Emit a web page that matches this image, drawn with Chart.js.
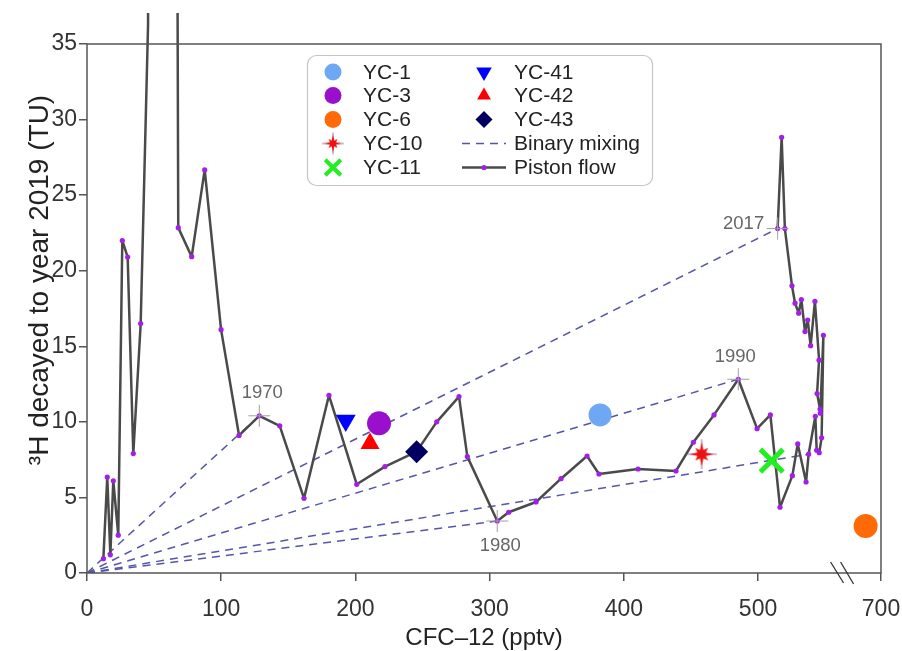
<!DOCTYPE html>
<html><head><meta charset="utf-8">
<script src="https://cdn.jsdelivr.net/npm/chart.js@4.4.1/dist/chart.umd.min.js"></script>
<style>html,body{margin:0;padding:0;background:#fff}#wrap{width:902px;height:651px}</style>
</head><body><div id="wrap"><canvas id="c" width="902" height="651"></canvas></div>
<script>
// ---------------- data ----------------
const PISTON_CFC = [12.2, 15.1, 17.4, 19.6, 23.3, 26.3, 30.3, 34.5, 40.0, 45.5, 46.5, 52.0, 60.0, 66.7, 68.0, 78.0, 87.7, 99.9, 113.3, 128.4, 143.6, 161.7, 180.3, 201.0, 222.0, 245.6, 260.6, 277.2, 283.4, 305.7, 314.2, 334.6, 353.2, 372.6, 381.5, 410.6, 438.9, 451.8, 467.2, 485.3, 499.3, 509.2, 516.4, 525.6, 529.6, 535.8, 537.7, 542.7, 543.7, 545.6, 547.4, 548.7, 546.4, 546.2, 544.0, 545.5, 542.4, 539.2, 537.0, 535.0, 532.3, 530.3, 527.6, 525.3, 520.0, 517.6, 514.6];
const PISTON_TU  = [0.95, 6.35, 1.2, 6.1, 2.5, 22.0, 20.9, 7.9, 16.5, 36.3, 120, 200, 150, 60, 22.85, 20.93, 26.67, 16.1, 9.1, 10.4, 9.74, 4.94, 11.76, 5.87, 7.04, 8.03, 10.0, 11.67, 7.7, 3.44, 4.02, 4.7, 6.24, 7.74, 6.55, 6.88, 6.75, 8.65, 10.46, 12.82, 9.55, 10.46, 4.35, 6.44, 8.54, 6.02, 7.86, 10.37, 8.12, 7.96, 8.95, 15.73, 10.57, 10.85, 11.87, 14.08, 17.98, 15.04, 16.74, 15.97, 18.09, 17.19, 17.85, 19.0, 22.79, 28.83, 22.79];

const SAMPLE_NAMES = ['YC-1', 'YC-3', 'YC-6', 'YC-10', 'YC-11', 'YC-41', 'YC-42', 'YC-43'];
const SAMPLE_CFC   = [382.3, 217.6, 690.0, 458.0, 510.2, 192.8, 210.9, 245.6];
const SAMPLE_TU    = [10.46, 9.9, 3.11, 7.86, 7.43, 10.09, 8.56, 8.03];

const YEAR_LABELS = ['1970', '1980', '1990', '2017'];
const YEAR_CFC    = [128.4, 305.7, 485.3, 514.6];
const YEAR_TU     = [10.4, 3.44, 12.82, 22.79];

const MIX_END_CFC = [128.4, 305.7, 485.3, 514.6, 537.7];
const MIX_END_TU  = [10.4, 3.44, 12.82, 22.79, 7.86];

const X_TICKS = [0, 100, 200, 300, 400, 500, 700];
const Y_TICKS = [0, 5, 10, 15, 20, 25, 30, 35];
const X_TITLE = 'CFC\u201312 (pptv)';
const Y_TITLE = '\u00B3H decayed to year 2019 (TU)';
const MIX_NAME = 'Binary mixing';
const PISTON_NAME = 'Piston flow';

// ---------------- styles ----------------
const FONT = "Arial, 'Liberation Sans', Helvetica, sans-serif";
const X_BREAK_LO = 563, X_BREAK_HI = 675, X_SPLIT = 0.9516;

function makeStar(scale) {
  const s = Math.ceil(32 * scale);
  const c = document.createElement('canvas');
  c.width = s; c.height = s;
  const g = c.getContext('2d');
  const cx = s / 2, cy = s / 2;
  g.strokeStyle = 'rgba(140,100,160,0.9)';
  g.lineWidth = 1;
  g.beginPath();
  g.moveTo(cx, cy - 15 * scale); g.lineTo(cx, cy + 15 * scale);
  g.moveTo(cx - 15 * scale, cy); g.lineTo(cx + 15 * scale, cy);
  g.stroke();
  g.fillStyle = '#ee1111';
  g.beginPath();
  const n = 8;
  for (let i = 0; i < n * 2; i++) {
    const a = -Math.PI / 2 + i * Math.PI / n;
    let r;
    if (i % 2 === 1) r = 4.6 * scale;
    else r = ((i / 2) % 2 === 0 ? 12 : 9) * scale;
    const px = cx + Math.cos(a) * r, py = cy + Math.sin(a) * r;
    if (i === 0) g.moveTo(px, py); else g.lineTo(px, py);
  }
  g.closePath();
  g.fill();
  return c;
}
const STAR_BIG = makeStar(1);
const STAR_SMALL = makeStar(0.72);

const SAMPLE_STYLE = [
  {style: 'circle', r: 11.5, rot: 0, fill: '#6ea7f3', stroke: '#6ea7f3', bw: 0, lr: 8.5},
  {style: 'circle', r: 12, rot: 0, fill: '#9a0fcc', stroke: '#9a0fcc', bw: 0, lr: 8.5},
  {style: 'circle', r: 12, rot: 0, fill: '#ff6a06', stroke: '#ff6a06', bw: 0, lr: 8.5},
  {style: STAR_BIG, r: 12, rot: 0, fill: '#ee1111', stroke: '#ee1111', bw: 0, lr: 8, legendStyle: STAR_SMALL},
  {style: 'crossRot', r: 16, rot: 0, fill: '#22ee22', stroke: '#22ee22', bw: 5, lr: 11, lbw: 4},
  {style: 'triangle', r: 11.5, rot: 180, fill: '#0000ff', stroke: '#0000ff', bw: 0, lr: 9},
  {style: 'triangle', r: 11, rot: 0, fill: '#ff0000', stroke: '#ff0000', bw: 0, lr: 8},
  {style: 'rectRot', r: 11.5, rot: 0, fill: '#000062', stroke: '#000062', bw: 0, lr: 8.5}
];
const YEAR_OFFSETS = [[3, -23], [3, 25], [-3, -22], [-34, -5]];
const MIX_COLOR = '#5656a8';
const PISTON_COLOR = '#4a4a4a';
const PISTON_DOT = '#a21fe6';

// ---------------- custom broken scale ----------------
class BrokenLinearScale extends Chart.LinearScale {
  _toDecimal(v) {
    if (v <= X_BREAK_LO) return (v - this.min) / (X_BREAK_LO - this.min) * X_SPLIT;
    if (v >= X_BREAK_HI) return X_SPLIT + (v - X_BREAK_HI) / (this.max - X_BREAK_HI) * (1 - X_SPLIT);
    return X_SPLIT;
  }
  getPixelForValue(value) {
    if (value === null || value === undefined || isNaN(value)) return NaN;
    return this.getPixelForDecimal(this._toDecimal(+value));
  }
  getValueForPixel(pixel) {
    const d = this.getDecimalForPixel(pixel);
    if (d <= X_SPLIT) return this.min + d / X_SPLIT * (X_BREAK_LO - this.min);
    return X_BREAK_HI + (d - X_SPLIT) / (1 - X_SPLIT) * (this.max - X_BREAK_HI);
  }
}
BrokenLinearScale.id = 'brokenLinear';
BrokenLinearScale.defaults = Chart.LinearScale.defaults;
Chart.register(BrokenLinearScale);

// ---------------- datasets ----------------
const datasets = [];
SAMPLE_NAMES.forEach((name, i) => {
  const st = SAMPLE_STYLE[i];
  datasets.push({
    label: name, order: 1,
    data: [{x: SAMPLE_CFC[i], y: SAMPLE_TU[i]}],
    pointStyle: st.style, pointRadius: st.r, pointRotation: st.rot,
    pointBackgroundColor: st.fill, pointBorderColor: st.stroke, pointBorderWidth: st.bw,
    showLine: false
  });
});
datasets.push({
  label: 'years', order: 2,
  data: YEAR_CFC.map((x, i) => ({x, y: YEAR_TU[i]})),
  pointStyle: 'cross', pointRadius: 11, pointBorderColor: '#a0a0a0', pointBorderWidth: 1,
  showLine: false
});
datasets.push({
  label: PISTON_NAME, order: 3,
  data: PISTON_CFC.map((x, i) => ({x, y: PISTON_TU[i]})),
  showLine: true, borderColor: PISTON_COLOR, borderWidth: 2.5, borderJoinStyle: 'round',
  pointRadius: 2.6, pointBackgroundColor: PISTON_DOT, pointBorderWidth: 0,
  clip: {left: 10, top: 31, right: 10, bottom: 10}
});
MIX_END_CFC.forEach((x, i) => {
  datasets.push({
    label: MIX_NAME, order: 4,
    data: [{x: 0, y: 0}, {x, y: MIX_END_TU[i]}],
    showLine: true, borderColor: MIX_COLOR, borderWidth: 1.5, borderDash: [8, 6],
    pointRadius: 0
  });
});

// ---------------- plugins ----------------
const framePlugin = {
  id: 'frame',
  afterDraw(chart) {
    const {ctx, chartArea: a, scales} = chart;
    ctx.save();
    ctx.strokeStyle = '#555';
    ctx.lineWidth = 1.5;
    ctx.strokeRect(a.left, a.top, a.right - a.left, a.bottom - a.top);
    // axis break marks
    const bx = scales.x.getPixelForValue(X_BREAK_LO);
    ctx.strokeStyle = '#333';
    ctx.lineWidth = 1.3;
    ctx.beginPath();
    ctx.moveTo(bx - 12, a.bottom - 11); ctx.lineTo(bx + 1, a.bottom + 10);
    ctx.moveTo(bx - 2, a.bottom - 11); ctx.lineTo(bx + 11, a.bottom + 11);
    ctx.stroke();
    // y axis title
    ctx.fillStyle = '#222';
    ctx.font = '28px ' + FONT;
    ctx.textAlign = 'center';
    ctx.textBaseline = 'middle';
    ctx.save();
    ctx.translate(40, 280);
    ctx.rotate(-Math.PI / 2);
    ctx.fillText(Y_TITLE, 0, 0);
    ctx.restore();
    // year labels
    ctx.fillStyle = '#666';
    ctx.font = '18.5px ' + FONT;
    YEAR_LABELS.forEach((t, i) => {
      const px = scales.x.getPixelForValue(YEAR_CFC[i]);
      const py = scales.y.getPixelForValue(YEAR_TU[i]);
      ctx.fillText(t, px + YEAR_OFFSETS[i][0], py + YEAR_OFFSETS[i][1]);
    });
    // legend
    const L = {x: 307.5, y: 55.5, w: 345, h: 130};
    ctx.beginPath();
    ctx.roundRect(L.x, L.y, L.w, L.h, 9);
    ctx.fillStyle = '#fff';
    ctx.fill();
    ctx.strokeStyle = '#c4c4c4';
    ctx.lineWidth = 1.2;
    ctx.stroke();
    const rows = [72, 95.5, 119.5, 143.5, 167.5];
    const items = SAMPLE_NAMES.map((n, i) => ({kind: 'pt', name: n, i}));
    items.push({kind: 'mix', name: MIX_NAME});
    items.push({kind: 'piston', name: PISTON_NAME});
    ctx.font = '21px ' + FONT;
    ctx.textAlign = 'left';
    items.forEach((it, k) => {
      const col = k < 5 ? 0 : 1;
      const row = k % 5;
      const mx = col === 0 ? 333 : 484;
      const tx = col === 0 ? 363 : 514;
      const y = rows[row];
      if (it.kind === 'pt') {
        const st = SAMPLE_STYLE[it.i];
        ctx.fillStyle = st.fill;
        ctx.strokeStyle = st.stroke;
        ctx.lineWidth = st.lbw || st.bw;
        Chart.helpers.drawPoint(ctx, {
          pointStyle: st.legendStyle || st.style, radius: st.lr, rotation: st.rot,
          borderWidth: st.lbw || st.bw
        }, mx, y);
      } else if (it.kind === 'mix') {
        ctx.strokeStyle = MIX_COLOR;
        ctx.lineWidth = 1.5;
        ctx.setLineDash([8, 6]);
        ctx.beginPath(); ctx.moveTo(mx - 22, y); ctx.lineTo(mx + 22, y); ctx.stroke();
        ctx.setLineDash([]);
      } else {
        ctx.strokeStyle = PISTON_COLOR;
        ctx.lineWidth = 2.5;
        ctx.beginPath(); ctx.moveTo(mx - 22, y); ctx.lineTo(mx + 22, y); ctx.stroke();
        ctx.fillStyle = PISTON_DOT;
        ctx.beginPath(); ctx.arc(mx, y, 2.6, 0, Math.PI * 2); ctx.fill();
      }
      ctx.fillStyle = '#222';
      ctx.fillText(it.name, tx, y + 1);
    });
    ctx.restore();
  }
};

// ---------------- chart ----------------
new Chart(document.getElementById('c'), {
  type: 'scatter',
  data: {datasets},
  options: {
    responsive: false,
    devicePixelRatio: 1,
    animation: false,
    layout: {padding: {top: 44, right: 21, left: 0, bottom: 0}},
    plugins: {legend: {display: false}, tooltip: {enabled: false}},
    scales: {
      x: {
        type: 'brokenLinear', min: 0, max: 700,
        afterBuildTicks: s => { s.ticks = X_TICKS.map(v => ({value: v})); },
        afterFit: s => { s.height = 78; s.paddingLeft = 0; s.paddingRight = 0; },
        grid: {display: true, drawOnChartArea: false, drawTicks: true, tickLength: 8, color: '#555', lineWidth: 1.5},
        border: {display: false},
        ticks: {font: {size: 23, family: FONT}, color: '#333', padding: 15, maxRotation: 0, autoSkip: false,
                callback: v => String(v)},
        title: {display: true, text: X_TITLE, font: {size: 24, family: FONT}, color: '#222', padding: {top: 0, bottom: -2}}
      },
      y: {
        type: 'linear', min: 0, max: 35,
        afterBuildTicks: s => { s.ticks = Y_TICKS.map(v => ({value: v})); },
        afterFit: s => { s.width = 87; },
        grid: {display: true, drawOnChartArea: false, drawTicks: true, tickLength: 8, color: '#555', lineWidth: 1.5},
        border: {display: false},
        ticks: {font: {size: 23, family: FONT}, color: '#333', padding: 2, callback: v => String(v)},
        title: {display: false}
      }
    }
  },
  plugins: [framePlugin]
});
</script></body></html>
